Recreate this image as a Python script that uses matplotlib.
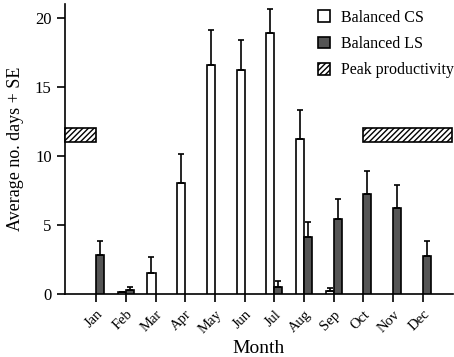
import matplotlib
matplotlib.use('Agg')
import matplotlib.pyplot as plt
import numpy as np
from matplotlib.patches import Patch

plt.rcParams.update({
    'font.family': 'Liberation Serif',
    'font.size': 12,
    'axes.linewidth': 1.2,
    'hatch.linewidth': 1.0,
})

months = ['Jan', 'Feb', 'Mar', 'Apr', 'May', 'Jun',
          'Jul', 'Aug', 'Sep', 'Oct', 'Nov', 'Dec']

cs_mean = [0.0, 0.1, 1.5, 8.0, 16.6, 16.2, 18.9, 11.2, 0.2, 0.0, 0.0, 0.0]
cs_se = [0.0, 0.0, 1.2, 2.1, 2.5, 2.2, 1.7, 2.1, 0.2, 0.0, 0.0, 0.0]
ls_mean = [2.8, 0.25, 0.0, 0.0, 0.0, 0.0, 0.5, 4.1, 5.4, 7.25, 6.2, 2.75]
ls_se = [1.0, 0.25, 0.0, 0.0, 0.0, 0.0, 0.4, 1.1, 1.5, 1.65, 1.7, 1.05]

# peak productivity periods (month index start, end) and y range
peak_spans = [(-1.05, 0.0), (9.0, 12.0)]
peak_y = (11.0, 12.0)

x = np.arange(len(months))
width = 0.27

fig = plt.figure(figsize=(4.54, 3.57), dpi=100)
ax = fig.add_axes([0.143, 0.177, 0.855, 0.812])

err_kw = dict(ecolor='black', elinewidth=1.2, capsize=2.5, capthick=1.2)

cs_idx = [i for i, m in enumerate(cs_mean) if m > 0]
ls_idx = [i for i, m in enumerate(ls_mean) if m > 0]

ax.bar(x[cs_idx] - width / 2, [cs_mean[i] for i in cs_idx], width,
       yerr=[[0] * len(cs_idx), [cs_se[i] for i in cs_idx]],
       color='white', edgecolor='black', linewidth=1.2, error_kw=err_kw,
       zorder=3)
ax.bar(x[ls_idx] + width / 2, [ls_mean[i] for i in ls_idx], width,
       yerr=[[0] * len(ls_idx), [ls_se[i] for i in ls_idx]],
       color='#555555', edgecolor='black', linewidth=1.2, error_kw=err_kw,
       zorder=3)

for x0, x1 in peak_spans:
    ax.add_patch(plt.Rectangle((x0, peak_y[0]), x1 - x0,
                               peak_y[1] - peak_y[0], facecolor='white',
                               edgecolor='black', hatch='//////',
                               linewidth=1.2, zorder=3, clip_on=False))

ax.set_xlim(-1.05, 12.02)
ax.set_ylim(0, 21)
ax.set_yticks([0, 5, 10, 15, 20])
ax.set_xticks(x)
ax.set_xticklabels(months, rotation=45, ha='right', rotation_mode='anchor')
ax.tick_params(axis='both', direction='out', length=6, width=1.2,
               labelsize=12)
ax.tick_params(axis='x', labelsize=10.5, pad=4)
ax.spines['top'].set_visible(False)
ax.spines['right'].set_visible(False)

ax.set_xlabel('Month', fontsize=14, labelpad=3)
ax.set_ylabel('Average no. days + SE', fontsize=13, labelpad=8)

handles = [
    Patch(facecolor='white', edgecolor='black', linewidth=1.2),
    Patch(facecolor='#555555', edgecolor='black', linewidth=1.2),
    Patch(facecolor='white', edgecolor='black', hatch='//////',
          linewidth=1.2),
]
ax.legend(handles, ['Balanced CS', 'Balanced LS', 'Peak productivity'],
          loc='upper right', bbox_to_anchor=(1.04, 1.03), frameon=False,
          fontsize=11.5, handlelength=0.75, handleheight=0.75,
          labelspacing=0.65, handletextpad=0.7)

fig.savefig('out.png', dpi=100)
